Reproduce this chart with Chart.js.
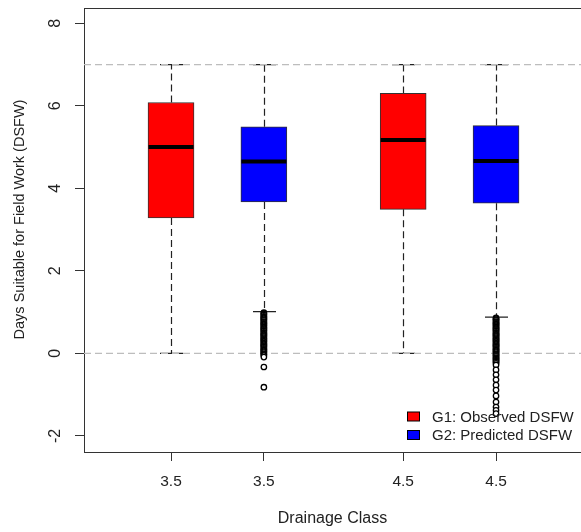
<!DOCTYPE html>
<html>
<head>
<meta charset="utf-8">
<script src="https://cdn.jsdelivr.net/npm/chart.js@4/dist/chart.umd.min.js"></script>
<style>
  html, body { margin: 0; padding: 0; background: #ffffff; }
  #wrap { width: 581px; height: 532px; }
</style>
</head>
<body>
<div id="wrap"><canvas id="chart"></canvas></div>
<script>
// Drainage classes on the x axis and the two series compared in each
const drainageClasses = ['3.5', '4.5'];
const seriesNames = ['G1: Observed DSFW', 'G2: Predicted DSFW'];
const seriesColors = ['#ff0000', '#0000ff'];

// Box summaries (days), one value per drainage class
const observedLow = [0, 0];
const observedQ1 = [3.28, 3.49];
const observedMedian = [5.0, 5.17];
const observedQ3 = [6.08, 6.30];
const observedHigh = [7, 7];

const predictedLow = [1.01, 0.88];
const predictedQ1 = [3.67, 3.64];
const predictedMedian = [4.65, 4.66];
const predictedQ3 = [5.49, 5.52];
const predictedHigh = [7, 7];

// Values beyond the lower whisker
const observedOutliers = [[], []];
const predictedOutliers = [
  [0.99, 0.97, 0.95, 0.93, 0.90, 0.88, 0.86, 0.84, 0.82, 0.80, 0.77, 0.75, 0.73,
   0.71, 0.69, 0.67, 0.64, 0.62, 0.60, 0.58, 0.56, 0.54, 0.51, 0.49, 0.47, 0.45,
   0.43, 0.41, 0.38, 0.36, 0.34, 0.32, 0.30, 0.28, 0.25, 0.23, 0.21, 0.19, 0.17,
   0.15, 0.12, 0.10, 0.08, 0.06, 0.04, 0.02, -0.01, -0.03, -0.05, -0.09,
   -0.33, -0.82],
  [0.86, 0.84, 0.82, 0.80, 0.77, 0.75, 0.73, 0.71, 0.69, 0.67, 0.64, 0.62, 0.60,
   0.58, 0.56, 0.54, 0.51, 0.49, 0.47, 0.45, 0.43, 0.41, 0.38, 0.36, 0.34, 0.32,
   0.30, 0.28, 0.25, 0.23, 0.21, 0.19, 0.17, 0.15, 0.12, 0.10, 0.08, 0.06, 0.04,
   0.02, -0.01, -0.03, -0.05, -0.07, -0.10, -0.12, -0.14, -0.16, -0.19, -0.21,
   -0.24, -0.28, -0.40, -0.52, -0.64, -0.77, -0.89, -1.03, -1.18, -1.30, -1.38,
   -1.46]
];

const yTickValues = [-2, 0, 2, 4, 6, 8];
const referenceLines = [0, 7];
const yTitle = 'Days Suitable for Field Work (DSFW)';
const xTitle = 'Drainage Class';

const series = [
  { low: observedLow, q1: observedQ1, median: observedMedian, q3: observedQ3, high: observedHigh, outliers: observedOutliers },
  { low: predictedLow, q1: predictedQ1, median: predictedMedian, q3: predictedQ3, high: predictedHigh, outliers: predictedOutliers }
];

// Each drainage class holds one box per series; classes are separated by a wider gap
const slotOf = (ci, si) => 1 + ci * 2.5 + si;
const slots = [];
const slotLabels = [];
drainageClasses.forEach((c, ci) => series.forEach((s, si) => {
  slots.push(slotOf(ci, si));
  slotLabels.push(c);
}));

const BOX_WIDTH = 46;
const FONT = '"Liberation Sans", Arial, sans-serif';
const INK = '#222222';
const AXIS = '#333333';

const datasets = series.map((s, si) => ({
  type: 'bar',
  label: seriesNames[si],
  data: drainageClasses.map((c, ci) => ({ x: slotOf(ci, si), y: [s.q1[ci], s.q3[ci]] })),
  backgroundColor: seriesColors[si],
  borderColor: AXIS,
  borderWidth: 1,
  borderSkipped: false,
  barThickness: BOX_WIDTH,
  grouped: false,
  order: 2
}));

const outlierPoints = [];
series.forEach((s, si) => drainageClasses.forEach((c, ci) => {
  s.outliers[ci].forEach(v => outlierPoints.push({ x: slotOf(ci, si), y: v }));
}));
datasets.push({
  type: 'scatter',
  label: 'outliers',
  data: outlierPoints,
  pointStyle: 'circle',
  pointRadius: 2.7,
  pointBackgroundColor: '#ffffff',
  pointBorderColor: '#000000',
  pointBorderWidth: 1.3,
  order: 1
});

// Whiskers, staples and the dashed reference lines go under the boxes
const whiskerPlugin = {
  id: 'whiskers',
  beforeDatasetsDraw(chart) {
    const { ctx, chartArea, scales: { x, y } } = chart;
    ctx.save();
    series.forEach((s, si) => drainageClasses.forEach((c, ci) => {
      const px = Math.round(x.getPixelForValue(slotOf(ci, si))) + 0.5;
      const yLow = y.getPixelForValue(s.low[ci]);
      const yQ1 = y.getPixelForValue(s.q1[ci]);
      const yQ3 = y.getPixelForValue(s.q3[ci]);
      const yHigh = y.getPixelForValue(s.high[ci]);
      ctx.strokeStyle = INK;
      ctx.lineWidth = 1.2;
      ctx.setLineDash([7, 4]);
      ctx.beginPath();
      ctx.moveTo(px, yQ3); ctx.lineTo(px, yHigh);
      ctx.moveTo(px, yQ1); ctx.lineTo(px, yLow);
      ctx.stroke();
      ctx.setLineDash([]);
      const half = BOX_WIDTH / 4;
      ctx.beginPath();
      ctx.moveTo(px - half, yHigh); ctx.lineTo(px + half, yHigh);
      ctx.moveTo(px - half, yLow); ctx.lineTo(px + half, yLow);
      ctx.stroke();
    }));
    ctx.strokeStyle = '#bdbdbd';
    ctx.lineWidth = 1.3;
    ctx.setLineDash([7, 4]);
    referenceLines.forEach(v => {
      const py = y.getPixelForValue(v);
      ctx.beginPath();
      ctx.moveTo(chartArea.left, py);
      ctx.lineTo(chartArea.right, py);
      ctx.stroke();
    });
    ctx.restore();
  },
  afterDatasetsDraw(chart) {
    const { ctx, scales: { x, y } } = chart;
    ctx.save();
    ctx.strokeStyle = '#000000';
    ctx.lineWidth = 4;
    series.forEach((s, si) => drainageClasses.forEach((c, ci) => {
      const px = x.getPixelForValue(slotOf(ci, si));
      const py = y.getPixelForValue(s.median[ci]);
      ctx.beginPath();
      ctx.moveTo(px - BOX_WIDTH / 2 + 0.5, py);
      ctx.lineTo(px + BOX_WIDTH / 2 - 0.5, py);
      ctx.stroke();
    }));
    ctx.restore();
  }
};

// Frame top, y-axis title and the in-plot legend
const framePlugin = {
  id: 'frame',
  afterDraw(chart) {
    const { ctx, chartArea } = chart;
    ctx.save();
    ctx.strokeStyle = AXIS;
    ctx.lineWidth = 1;
    ctx.beginPath();
    ctx.moveTo(chartArea.left, Math.round(chartArea.top) + 0.5);
    ctx.lineTo(chartArea.right, Math.round(chartArea.top) + 0.5);
    ctx.stroke();

    ctx.fillStyle = INK;
    ctx.font = '14.5px ' + FONT;
    ctx.textAlign = 'center';
    ctx.textBaseline = 'middle';
    ctx.translate(19.5, 219.5);
    ctx.rotate(-Math.PI / 2);
    ctx.fillText(yTitle, 0, 0);
    ctx.restore();

    ctx.save();
    ctx.font = '15px ' + FONT;
    ctx.textAlign = 'left';
    ctx.textBaseline = 'middle';
    seriesNames.forEach((name, si) => {
      const cy = 416.5 + si * 18.5;
      ctx.fillStyle = seriesColors[si];
      ctx.fillRect(407, cy - 4.5, 12, 9);
      ctx.strokeStyle = '#000000';
      ctx.lineWidth = 1;
      ctx.strokeRect(407.5, cy - 4.5, 12, 9);
      ctx.fillStyle = INK;
      ctx.fillText(name, 432, cy + 1);
    });
    ctx.restore();
  }
};

new Chart(document.getElementById('chart'), {
  type: 'bar',
  data: { datasets },
  plugins: [whiskerPlugin, framePlugin],
  options: {
    responsive: true,
    maintainAspectRatio: false,
    animation: false,
    devicePixelRatio: 1,
    layout: { autoPadding: false, padding: { top: 8, right: -2, left: 0, bottom: 0 } },
    plugins: {
      legend: { display: false },
      tooltip: { enabled: false }
    },
    scales: {
      x: {
        type: 'linear',
        min: 0.063,
        max: 5.415,
        offset: false,
        afterFit(scale) {
          scale.height = 80;
          scale.paddingLeft = 0;
          scale.paddingRight = 0;
        },
        afterBuildTicks(scale) { scale.ticks = slots.map(v => ({ value: v })); },
        grid: { display: true, drawOnChartArea: false, drawTicks: true, tickLength: 9, color: AXIS, offset: false },
        border: { display: true, color: AXIS, width: 1 },
        ticks: {
          padding: 11,
          color: INK,
          font: { family: FONT, size: 15.5 },
          maxRotation: 0,
          autoSkip: false,
          callback: (value, index) => slotLabels[index]
        },
        title: {
          display: true,
          text: xTitle,
          color: INK,
          font: { family: FONT, size: 16 },
          padding: { top: 0, bottom: 4 }
        }
      },
      y: {
        type: 'linear',
        min: -2.39,
        max: 8.37,
        afterFit(scale) {
          scale.width = 84;
          scale.paddingTop = 0;
          scale.paddingBottom = 0;
        },
        afterBuildTicks(scale) { scale.ticks = yTickValues.map(v => ({ value: v })); },
        grid: { display: true, drawOnChartArea: false, drawTicks: true, tickLength: 9, color: AXIS },
        border: { display: true, color: AXIS, width: 1 },
        ticks: {
          padding: 12,
          color: INK,
          font: { family: FONT, size: 16 },
          minRotation: 90,
          maxRotation: 90,
          crossAlign: 'center',
          callback: v => String(v)
        }
      }
    }
  }
});
</script>
</body>
</html>
